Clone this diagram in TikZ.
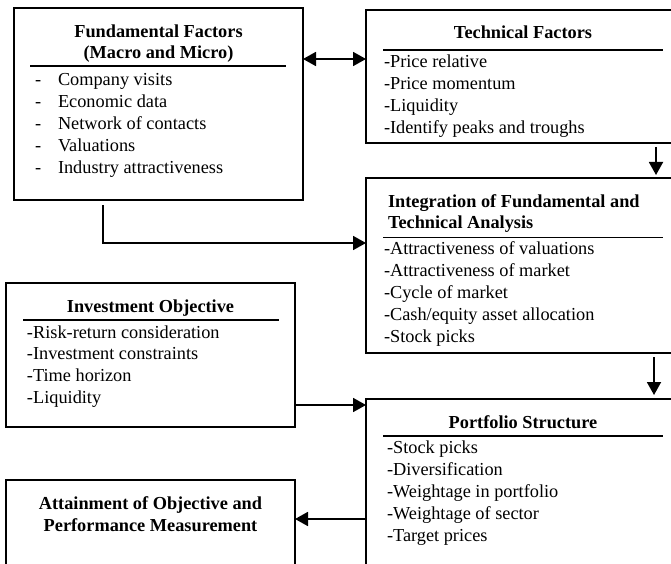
\documentclass[tikz,border=0pt]{standalone}
\usepackage{fontspec}
\setmainfont{Liberation Serif}
\usetikzlibrary{arrows.meta}
\begin{document}
\begin{tikzpicture}[x=1pt,y=-1pt,
  every node/.style={font=\fontsize{18.3}{22}\selectfont, inner sep=0pt, outer sep=0pt},
  panel/.style={draw, line width=1.8pt, anchor=north west},
  heading/.style={font=\fontsize{18.3}{22}\selectfont\bfseries, anchor=base},
  lheading/.style={font=\fontsize{18.3}{22}\selectfont\bfseries, anchor=base west},
  entry/.style={anchor=base west},
  rule/.style={line width=1.4pt},
  tip/.style={Triangle[length=13pt,width=14pt]},
  link/.style={line width=1.8pt, -{Triangle[length=13pt,width=14pt]}},
]
\useasboundingbox (0,0) rectangle (671,564);
\fill[white] (0,0) rectangle (671,564);
\clip (0,0) rectangle (671,564);

% panels
\node[panel, minimum width=289pt, minimum height=192pt] (fund) at (14,8) {};
\node[panel, minimum width=314pt, minimum height=133pt] (tech) at (366,10) {};
\node[panel, minimum width=314pt, minimum height=175pt] (integ) at (366,178) {};
\node[panel, minimum width=289pt, minimum height=144pt] (objective) at (6,283) {};
\node[panel, minimum width=289pt, minimum height=130pt] (attain) at (6,480) {};
\node[panel, minimum width=314pt, minimum height=210pt] (portfolio) at (366,399) {};

% Fundamental factors
\node[heading] (fund-t1) at (158.5,38) {Fundamental Factors};
\node[heading] (fund-t2) at (158.5,59) {(Macro and Micro)};
\draw[rule] (30,66) -- (286,66);
\foreach \t [count=\i from 0] in {Company visits, Economic data, Network of contacts, Valuations, Industry attractiveness} {
  \node[entry] (fund-d\i) at (35, 86+21.8*\i) {-};
  \node[entry] (fund-i\i) at (58, 86+21.8*\i) {\t};
}

% Technical factors
\node[heading] (tech-t) at (523,39) {Technical Factors};
\draw[rule] (383,50) -- (663,50);
\foreach \t [count=\i from 0] in {Price relative, Price momentum, Liquidity, Identify peaks and troughs} {
  \node[entry] (tech-i\i) at (384, 68+21.9*\i) {-\t};
}

% Integration
\node[lheading] (integ-t1) at (388,207) {Integration of Fundamental and};
\node[lheading] (integ-t2) at (388,228) {Technical Analysis};
\draw[rule] (383,237.3) -- (663,237.3);
\foreach \t [count=\i from 0] in {Attractiveness of valuations, Attractiveness of market, Cycle of market, Cash/equity asset allocation, Stock picks} {
  \node[entry] (integ-i\i) at (384, 254+22*\i) {-\t};
}

% Investment objective
\node[heading] (objective-t) at (150.5,312) {Investment Objective};
\draw[rule] (23,320) -- (279,320);
\foreach \t [count=\i from 0] in {Risk-return consideration, Investment constraints, Time horizon, Liquidity} {
  \node[entry] (objective-i\i) at (27, 338+21.7*\i) {-\t};
}

% Portfolio structure
\node[heading] (portfolio-t) at (523,428) {Portfolio Structure};
\draw[rule] (383,436) -- (663,436);
\foreach \t [count=\i from 0] in {Stock picks, Diversification, Weightage in portfolio, Weightage of sector, Target prices} {
  \node[entry] (portfolio-i\i) at (387, 453+22.2*\i) {-\t};
}

% Attainment
\node[heading] (attain-t1) at (150.5,509) {Attainment of Objective and};
\node[heading] (attain-t2) at (150.5,531) {Performance Measurement};

% connectors
\draw[line width=1.8pt, {Triangle[length=13pt,width=14pt]}-{Triangle[length=13pt,width=14pt]}]
  ([yshift=-51pt]fund.north east) -- ([yshift=-49pt]tech.north west);
\draw[link] ([xshift=-24pt,yshift=-4pt]tech.south east) -- ([xshift=-24pt,yshift=3pt]integ.north east);
\draw[link] ([xshift=89pt,yshift=-5pt]fund.south west) |- ([yshift=-65pt]integ.north west);
\draw[link] ([xshift=-26pt,yshift=-4pt]integ.south east) -- ([xshift=-26pt,yshift=4pt]portfolio.north east);
\draw[link] ([yshift=22pt]objective.south east) -- ([yshift=-6pt]portfolio.north west);
\draw[link] ([yshift=-120pt]portfolio.north west) -- ([yshift=-39pt]attain.north east);
\end{tikzpicture}
\end{document}
